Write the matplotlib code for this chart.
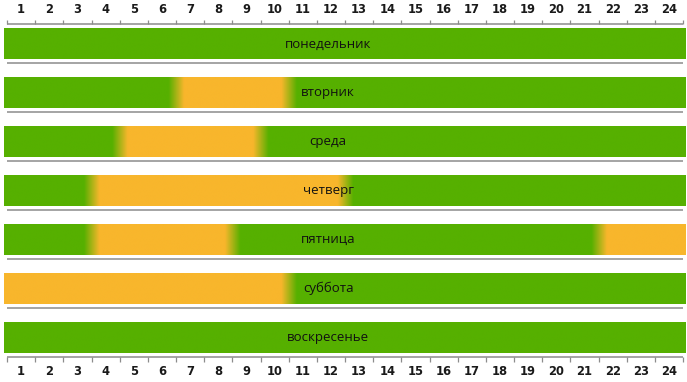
import numpy as np
import matplotlib
matplotlib.use("Agg")
import matplotlib.pyplot as plt

# ---- data ----
days = ['понедельник', 'вторник', 'среда', 'четверг', 'пятница', 'суббота', 'воскресенье']
busy_starts = [[], [6], [4], [3], [3, 21], [0], []]
busy_ends = [[], [10], [9], [12], [8, 24], [10], []]
hour_labels = [str(h) for h in range(1, 25)]

# ---- style ----
GREEN = np.array([86, 176, 0]) / 255.0
ORANGE = np.array([248, 182, 44]) / 255.0
LINE = '#8c8c8c'
BAR_X0, BAR_X1 = -0.11, 24.07
HALF_H = 0.307
FADE = 0.55

fig = plt.figure(figsize=(6.87, 3.82), dpi=100)
ax = fig.add_axes([0, 0, 1, 1])
ax.set_axis_off()

xs = np.linspace(BAR_X0, BAR_X1, 2400)
for i, (name, s_list, e_list) in enumerate(zip(days, busy_starts, busy_ends)):
    frac = np.zeros_like(xs)
    for s, e in zip(s_list, e_list):
        s_eff = -1e9 if s <= 0 else s
        e_eff = 1e9 if e >= 24 else e
        a = np.clip((xs - s_eff) / FADE + 0.5, 0, 1)
        b = np.clip((e_eff - xs) / FADE + 0.5, 0, 1)
        frac = np.maximum(frac, a * b)
    img = GREEN[None, :] * (1 - frac[:, None]) + ORANGE[None, :] * frac[:, None]
    ax.imshow(img[None, :, :], extent=(BAR_X0, BAR_X1, i + HALF_H, i - HALF_H),
              aspect='auto', interpolation='bilinear', zorder=1)
    ax.text(11.4, i, name, ha='center', va='center', fontsize=9.5,
            family=['Open Sans', 'DejaVu Sans'], color='#111111', zorder=3)
    # separator line below each bar
    ax.hlines(i + 0.39, 0, 24, color=LINE, lw=1.1, zorder=2)

# top axis
top_y = -0.41
ax.hlines(top_y, 0, 24, color=LINE, lw=1.1)
ticks = np.arange(0, 25)
ax.vlines(ticks, top_y - 0.085, top_y, color=LINE, lw=0.9)
bot_y = len(days) - 1 + 0.39
ax.vlines(ticks, bot_y, bot_y + 0.11, color=LINE, lw=0.9)
for k, lab in enumerate(hour_labels):
    ax.text(k + 0.5, -0.7, lab, ha='center', va='center', fontsize=8.3,
            family='DejaVu Sans', fontweight='bold', color='#1a1a1a')
    ax.text(k + 0.5, 6.7, lab, ha='center', va='center', fontsize=8.3,
            family='DejaVu Sans', fontweight='bold', color='#1a1a1a')

ax.set_xlim(-0.2485, 24.14)
ax.set_ylim(6.91, -0.9)

fig.savefig('out.png', dpi=100, facecolor='white')
